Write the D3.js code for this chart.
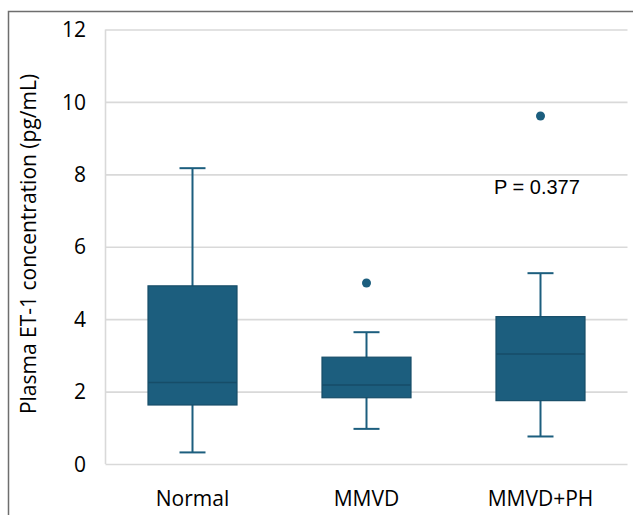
<!DOCTYPE html>
<html>
<head>
<meta charset="utf-8">
<script src="https://cdn.jsdelivr.net/npm/d3@7"></script>
<style>
  body { margin: 0; background: #fff; }
  svg text { font-family: "Open Sans", sans-serif; fill: #000; }
</style>
</head>
<body>
<svg id="chart" width="633" height="515"></svg>
<script>
var groups = ['Normal', 'MMVD', 'MMVD+PH']
var lowWhisker = [0.32, 0.97, 0.76]
var q1 = [1.63, 1.83, 1.75]
var median = [2.25, 2.18, 3.04]
var q3 = [4.92, 2.95, 4.07]
var highWhisker = [8.17, 3.64, 5.27]
var outliers = [[], [5.0], [9.61]]
var yTicks = [0, 2, 4, 6, 8, 10, 12]
var pLabel = 'P = 0.377'

var svg = d3.select('#chart')
var color = '#1c5e7e'
  , dark = '#164d68'

// outer frame (cut off on the right and bottom)
svg.append('path')
  .attr('d', 'M8.5,515 V11.5 H633')
  .attr('fill', 'none')
  .attr('stroke', '#6e6e6e')
  .attr('stroke-width', 1.5)

var x = d3.scaleBand().domain(groups).range([105.5, 627.5])
var y = d3.scaleLinear().domain([0, 12]).range([464, 29.5])

var data = groups.map(function (g, i) {
  return { name: g, lo: lowWhisker[i], q1: q1[i], med: median[i], q3: q3[i], hi: highWhisker[i], out: outliers[i] }
})

// gridlines + left axis line
var yAxis = d3.axisLeft(y).tickValues(yTicks).tickSize(-(627.5 - 105.5)).tickFormat(d3.format('d'))
var gy = svg.append('g').attr('transform', 'translate(105.5,0)').call(yAxis)
gy.select('.domain').remove()
gy.selectAll('.tick line').attr('stroke', '#d9d9d9').attr('stroke-width', 1.6)
gy.selectAll('.tick text').attr('x', -19.5).attr('dy', '0.34em').style('font-size', '21px')

svg.append('line')
  .attr('x1', 105.5).attr('x2', 105.5)
  .attr('y1', y(12)).attr('y2', y(0))
  .attr('stroke', '#d9d9d9').attr('stroke-width', 1.6)

// x labels
svg.selectAll('.xlab').data(groups).enter().append('text')
  .attr('class', 'xlab')
  .attr('x', function (d) { return x(d) + x.bandwidth() / 2 })
  .attr('y', 506)
  .attr('text-anchor', 'middle')
  .style('font-size', '21px')
  .text(function (d) { return d })

// y title
svg.append('text')
  .attr('transform', 'translate(36,244) rotate(-90)')
  .attr('text-anchor', 'middle')
  .style('font-size', '21px')
  .text('Plasma ET-1 concentration (pg/mL)')

var boxW = 89, capW = 26

var box = svg.selectAll('.box').data(data).enter().append('g')
  .attr('class', 'box')
  .attr('transform', function (d) { return 'translate(' + (x(d.name) + x.bandwidth() / 2) + ',0)' })

box.append('line')
  .attr('x1', 0).attr('x2', 0)
  .attr('y1', function (d) { return y(d.hi) })
  .attr('y2', function (d) { return y(d.lo) })
  .attr('stroke', color).attr('stroke-width', 2)

box.selectAll('.cap').data(function (d) { return [d.lo, d.hi] }).enter().append('line')
  .attr('x1', -capW / 2).attr('x2', capW / 2)
  .attr('y1', function (v) { return y(v) }).attr('y2', function (v) { return y(v) })
  .attr('stroke', color).attr('stroke-width', 2)

box.append('rect')
  .attr('x', -boxW / 2)
  .attr('width', boxW)
  .attr('y', function (d) { return y(d.q3) })
  .attr('height', function (d) { return y(d.q1) - y(d.q3) })
  .attr('fill', color)
  .attr('stroke', dark).attr('stroke-width', 1.2)

box.append('line')
  .attr('x1', -boxW / 2).attr('x2', boxW / 2)
  .attr('y1', function (d) { return y(d.med) }).attr('y2', function (d) { return y(d.med) })
  .attr('stroke', dark).attr('stroke-width', 1.6)

box.selectAll('.out').data(function (d) { return d.out }).enter().append('circle')
  .attr('cx', 0)
  .attr('cy', function (v) { return y(v) })
  .attr('r', 4.5)
  .attr('fill', color)

svg.append('text')
  .attr('x', 494).attr('y', 194)
  .style('font-family', '"Liberation Sans", Arial, sans-serif')
  .style('font-size', '20px')
  .text(pLabel)
</script>
</body>
</html>
